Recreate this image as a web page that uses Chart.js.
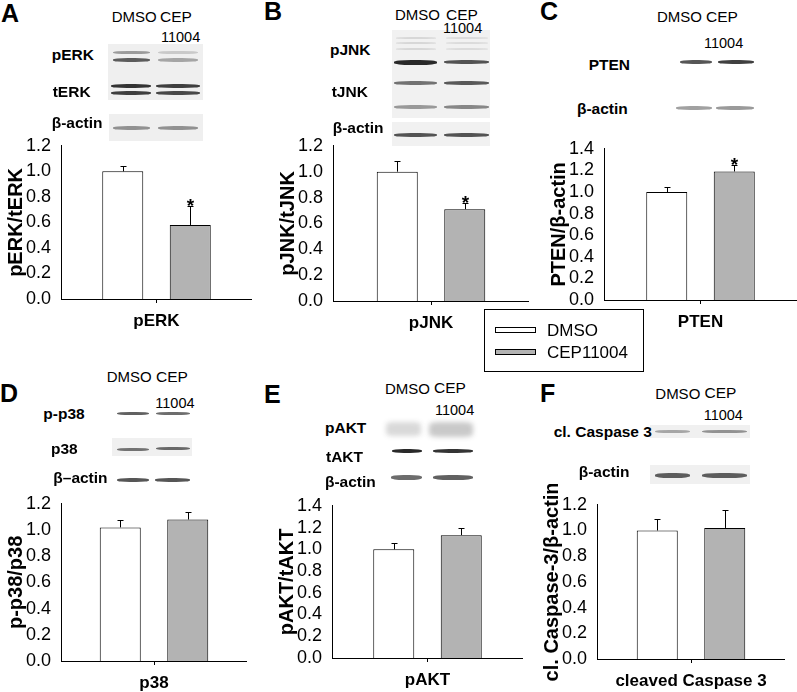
<!DOCTYPE html>
<html>
<head>
<meta charset="utf-8">
<script src="https://cdn.jsdelivr.net/npm/chart.js@4"></script>
<style>
  html, body { margin: 0; padding: 0; background: #fff; }
  #fig { position: relative; width: 797px; height: 692px; overflow: hidden; font-family: "Liberation Sans", Arial, sans-serif; color: #000; }
  #fig canvas { position: absolute; }
  .t { position: absolute; white-space: nowrap; line-height: 1; }
  .box { position: absolute; background: #efefef; }
  .band { position: absolute; border-radius: 40%; filter: blur(0.7px); }
  #legend { position: absolute; left: 484px; top: 309px; width: 160px; height: 63px; border: 1px solid #000; box-sizing: border-box; }
</style>
</head>
<body>
<div id="fig"></div>
<script>
// values (mean and one-sided SEM, normalised to DMSO)
const groups = ["DMSO", "CEP11004"];
const categories = ["pERK", "pJNK", "PTEN", "p38", "pAKT", "cleaved Caspase 3"];
const yTitles = ["pERK/tERK", "pJNK/tJNK", "PTEN/β-actin", "p-p38/p38", "pAKT/tAKT", "cl. Caspase-3/β-actin"];
const dmsoMean = [1.00, 1.00, 1.00, 1.02, 1.00, 1.00];
const dmsoSem = [0.04, 0.08, 0.05, 0.06, 0.06, 0.09];
const cepMean = [0.58, 0.71, 1.19, 1.08, 1.13, 1.02];
const cepSem = [0.15, 0.045, 0.06, 0.06, 0.07, 0.14];
const significant = [true, true, true, false, false, false];
const yMax = [1.2, 1.2, 1.4, 1.2, 1.4, 1.2];

const barColors = ["#ffffff", "#b3b3b3"];

// where each plot sits on the page
const layout = [
  { letter: "A", axisX: 61, axisRight: 252, topY: 139, zeroY: 299 },
  { letter: "B", axisX: 333, axisRight: 529, topY: 139, zeroY: 301 },
  { letter: "C", axisX: 604, axisRight: 797, topY: 142, zeroY: 300 },
  { letter: "D", axisX: 61, axisRight: 247, topY: 497, zeroY: 661 },
  { letter: "E", axisX: 332, axisRight: 523, topY: 499, zeroY: 658 },
  { letter: "F", axisX: 597, axisRight: 785, topY: 498, zeroY: 659 }
];

const PAD_TOP = 14, X_H = 40, Y_W = 61;
const fig = document.getElementById("fig");

Chart.defaults.font.family = '"Liberation Sans", Arial, sans-serif';
Chart.defaults.color = "#000";

function txt(s, x, base, size, bold, align) {
  const d = document.createElement("div");
  d.className = "t";
  d.textContent = s;
  d.style.fontSize = size + "px";
  d.style.fontWeight = bold ? "bold" : "normal";
  d.style.top = (base - 0.8465 * size) + "px";
  if (align === "center") { d.style.left = (x - 200) + "px"; d.style.width = "400px"; d.style.textAlign = "center"; }
  else d.style.left = x + "px";
  fig.appendChild(d);
}

function box(x, y, w, h, c) {
  const d = document.createElement("div");
  d.className = "box";
  d.style.cssText = `left:${x}px;top:${y}px;width:${w}px;height:${h}px;` + (c ? `background:${c};` : "");
  fig.appendChild(d);
}

function band(x1, x2, y, h, a, blur) {
  const d = document.createElement("div");
  d.className = "band";
  d.style.cssText = `left:${x1}px;top:${y - h / 2}px;width:${x2 - x1}px;height:${h}px;background:rgba(30,30,30,${a});` +
    (blur ? `filter:blur(${blur}px);border-radius:20%;` : "");
  fig.appendChild(d);
}

// error bars + significance stars
const errorBars = {
  id: "errorBars",
  afterDatasetsDraw(chart) {
    const ctx = chart.ctx, yS = chart.scales.y;
    ctx.save();
    ctx.strokeStyle = "#000";
    ctx.lineWidth = 1;
    chart.data.datasets.forEach((ds, di) => {
      chart.getDatasetMeta(di).data.forEach((el, i) => {
        const x = Math.round(el.x) + 0.5;
        const top = Math.round(yS.getPixelForValue(ds.data[i] + ds.sem[i])) + 0.5;
        ctx.beginPath();
        ctx.moveTo(x, el.y);
        ctx.lineTo(x, top);
        ctx.moveTo(x - 3, top);
        ctx.lineTo(x + 3, top);
        ctx.stroke();
        if (ds.stars && ds.stars[i]) {
          ctx.fillStyle = "#000";
          ctx.font = 'bold 19px "Liberation Sans", Arial, sans-serif';
          ctx.textAlign = "center";
          ctx.textBaseline = "alphabetic";
          ctx.fillText("*", x, top + 5);
        }
      });
    });
    ctx.restore();
  }
};

function makePanel(i) {
  const p = layout[i];
  const left = p.axisX - Y_W, top = p.topY - PAD_TOP;
  const w = p.axisRight - left, h = p.zeroY + X_H - top;
  const cv = document.createElement("canvas");
  cv.width = w; cv.height = h;
  cv.style.left = left + "px"; cv.style.top = top + "px";
  cv.style.width = w + "px"; cv.style.height = h + "px";
  fig.appendChild(cv);

  const axisW = p.axisRight - p.axisX;
  new Chart(cv, {
    type: "bar",
    data: {
      labels: [categories[i]],
      datasets: [
        { label: groups[0], data: [dmsoMean[i]], sem: [dmsoSem[i]], backgroundColor: barColors[0], borderColor: "#000", borderWidth: 1 },
        { label: groups[1], data: [cepMean[i]], sem: [cepSem[i]], stars: [significant[i]], backgroundColor: barColors[1], borderColor: "#000", borderWidth: 1 }
      ]
    },
    options: {
      responsive: false,
      animation: false,
      devicePixelRatio: 1,
      layout: { padding: { top: PAD_TOP, left: 0, right: 0, bottom: 0 } },
      categoryPercentage: 135 / axisW,
      barPercentage: 41 / 67.5,
      plugins: { legend: { display: false }, tooltip: { enabled: false } },
      scales: {
        x: {
          grid: { display: true, drawOnChartArea: false, offset: false, tickLength: 4, color: "#000" },
          border: { display: true, color: "#000", width: 1 },
          ticks: { font: { size: 17, weight: "bold" }, padding: 8, maxRotation: 0 },
          afterFit: s => { s.height = X_H; }
        },
        y: {
          min: 0, max: yMax[i],
          grid: { display: false, drawTicks: false, tickLength: 0 },
          border: { display: true, color: "#000", width: 1 },
          ticks: { stepSize: 0.2, autoSkip: false, font: { size: 18 }, padding: 10, callback: v => v.toFixed(1) },
          title: { display: true, text: yTitles[i], font: { size: 20, weight: "bold" }, padding: { top: 4, bottom: 0 } },
          afterFit: s => { s.width = Y_W; }
        }
      }
    },
    plugins: [errorBars]
  });
}

// blot images (drawn as soft bands)
// A
box(108, 44, 95, 56); box(109, 114, 94, 27);
band(113, 150, 52, 3, 0.4); band(158, 198, 52, 3, 0.18);
band(113, 150, 60, 4, 0.7); band(158, 198, 60, 4, 0.35);
band(111, 151, 86, 4, 0.9); band(156, 200, 86, 4, 0.85);
band(111, 151, 93, 4, 0.85); band(156, 200, 93, 4, 0.8);
band(113, 150, 128, 4, 0.45); band(158, 198, 128, 4, 0.45);
// B
box(392, 30, 98, 88, "#f1f1f1"); box(392, 122, 98, 24, "#f1f1f1");
[38, 43, 49].forEach(y => { band(396, 436, y, 2, 0.12); band(446, 488, y, 2, 0.1); });
band(394, 437, 62, 5, 0.95); band(444, 489, 62, 4, 0.75);
band(394, 437, 83, 4, 0.6); band(444, 489, 83, 4, 0.72);
band(394, 437, 107, 4, 0.42); band(444, 489, 107, 4, 0.5);
band(394, 437, 135, 4, 0.75); band(444, 489, 135, 4, 0.75);
// C
band(680, 712, 62, 4, 0.75); band(718, 754, 62, 4, 0.85);
band(676, 712, 108, 4, 0.42); band(716, 754, 108, 4, 0.45);
// D
band(117, 149, 413, 3, 0.7); band(156, 190, 413, 3, 0.65);
box(112, 438, 80, 18, "#f0f0f0");
band(117, 149, 449, 3, 0.6); band(156, 190, 448, 3, 0.65);
band(117, 149, 480, 4, 0.75); band(155, 190, 480, 4, 0.75);
// E
band(386, 421, 429, 14, 0.17, 2.5); band(429, 473, 429, 15, 0.24, 2.5);
band(392, 422, 451, 4, 0.95); band(433, 473, 451, 4, 0.9);
band(391, 422, 477, 5, 0.65); band(433, 473, 477, 5, 0.7);
// F
box(650, 425, 100, 13, "#f0f0f0"); box(650, 465, 100, 19, "#f0f0f0");
band(655, 690, 431, 3, 0.35); band(702, 747, 431, 3, 0.45);
band(655, 690, 475, 5, 0.7); band(702, 747, 475, 5, 0.7);

for (let i = 0; i < layout.length; i++) makePanel(i);

// panel letters
txt("A", 1, 22, 25, true); txt("B", 264, 20, 25, true); txt("C", 540, 20, 25, true);
txt("D", 0, 402, 25, true); txt("E", 264, 403, 25, true); txt("F", 540, 402, 25, true);

// lane headers
const heads = [[111.7, 160, 161, 21.7, 42.3], [395, 446, 443, 20, 33.3], [657, 706, 704, 21.7, 48.3],
  [106.7, 156, 155.3, 382, 408.3], [385, 434, 435, 393.3, 415], [655.3, 704.5, 703.7, 398.3, 420]];
heads.forEach(h => { txt("DMSO", h[0], h[3], 15); txt("CEP", h[1], h[3], 15.5); txt("11004", h[2], h[4], 14.5); });

// blot labels
[["pERK", 51.7, 60], ["tERK", 52.7, 96.7], ["β-actin", 51.7, 128.3],
 ["pJNK", 330, 55], ["tJNK", 331.7, 97.3], ["β-actin", 332.7, 133.3],
 ["PTEN", 588.7, 70], ["β-actin", 577, 114],
 ["p-p38", 43.3, 419.3], ["p38", 51, 454], ["β–actin", 53.3, 483.3],
 ["pAKT", 325, 433.3], ["tAKT", 326, 461.7], ["β-actin", 325, 486.7],
 ["cl. Caspase 3", 553.7, 436.7], ["β-actin", 578.7, 476.7]
].forEach(l => txt(l[0], l[1], l[2], 15.5, true));

// legend
const lg = document.createElement("div");
lg.id = "legend";
fig.appendChild(lg);
groups.forEach((g, k) => {
  const sw = document.createElement("div");
  sw.style.cssText = `position:absolute;left:495px;top:${327 + k * 22}px;width:41px;height:6px;border:1px solid #000;box-sizing:border-box;background:${barColors[k]};`;
  fig.appendChild(sw);
  txt(g, 547, 336 + k * 22, 17);
});
</script>
</body>
</html>
